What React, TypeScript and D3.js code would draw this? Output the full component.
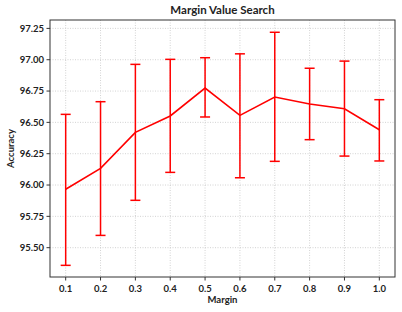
import React from 'react';
import * as d3 from 'd3';

const margins = [0.1, 0.2, 0.3, 0.4, 0.5, 0.6, 0.7, 0.8, 0.9, 1.0];
const accuracy = [95.966, 96.133, 96.42, 96.551, 96.774, 96.556, 96.702, 96.646, 96.609, 96.441];
const errLow = [95.359, 95.598, 95.878, 96.101, 96.543, 96.058, 96.189, 96.362, 96.231, 96.192];
const errHigh = [96.564, 96.665, 96.963, 97.003, 97.016, 97.047, 97.219, 96.932, 96.989, 96.681];
const yTicks = [95.5, 95.75, 96.0, 96.25, 96.5, 96.75, 97.0, 97.25];

const W = 402;
const H = 312;
const left = 50;
const right = 395;
const top = 20;
const bottom = 277;
const FONT = 'Lato, "DejaVu Sans", sans-serif';

const App = () => {
  const x = d3.scaleLinear().domain([0.055, 1.045]).range([left, right]);
  const y = d3.scaleLinear().domain([95.266, 97.317]).range([bottom, top]);

  const line = d3
    .line<number>()
    .x((d, i) => x(margins[i]))
    .y(d => y(d));

  const cap = 5;

  return (
    <svg width={W} height={H} style={{ position: 'absolute', left: 0, top: 0 }}>
      <rect width={W} height={H} fill="#fff" />
      {/* grid */}
      {margins.map(m => (
        <line key={'gx' + m} x1={x(m)} x2={x(m)} y1={top} y2={bottom}
          stroke="#c8c8c8" strokeWidth={0.8} strokeDasharray="1,1.5" />
      ))}
      {yTicks.map(t => (
        <line key={'gy' + t} x1={left} x2={right} y1={y(t)} y2={y(t)}
          stroke="#c8c8c8" strokeWidth={0.8} strokeDasharray="1,1.5" />
      ))}
      {/* error bars */}
      {margins.map((m, i) => (
        <g key={'e' + m} stroke="#ff0000" strokeWidth={1.5}>
          <line x1={x(m)} x2={x(m)} y1={y(errLow[i])} y2={y(errHigh[i])} />
          <line x1={x(m) - cap} x2={x(m) + cap} y1={y(errLow[i])} y2={y(errLow[i])} />
          <line x1={x(m) - cap} x2={x(m) + cap} y1={y(errHigh[i])} y2={y(errHigh[i])} />
        </g>
      ))}
      <path d={line(accuracy) || ''} fill="none" stroke="#ff0000" strokeWidth={1.6} />
      {/* frame */}
      <rect x={left} y={top} width={right - left} height={bottom - top}
        fill="none" stroke="#333" strokeWidth={1} />
      {/* ticks */}
      {margins.map(m => (
        <g key={'tx' + m}>
          <line x1={x(m)} x2={x(m)} y1={bottom} y2={bottom + 3.5} stroke="#333" />
          <text x={x(m)} y={bottom + 15} textAnchor="middle" fontFamily={FONT}
            fontWeight="bold" fontSize={9.5} fill="#222">{d3.format('.1f')(m)}</text>
        </g>
      ))}
      {yTicks.map(t => (
        <g key={'ty' + t}>
          <line x1={left - 3.5} x2={left} y1={y(t)} y2={y(t)} stroke="#333" />
          <text x={left - 6} y={y(t)} dy="0.35em" textAnchor="end" fontFamily={FONT}
            fontWeight="bold" fontSize={9.5} fill="#222">{d3.format('.2f')(t)}</text>
        </g>
      ))}
      <text x={(left + right) / 2} y={14} textAnchor="middle" fontFamily={FONT}
        fontWeight="bold" fontSize={11.5} fill="#222">Margin Value Search</text>
      <text x={(left + right) / 2} y={303} textAnchor="middle" fontFamily={FONT}
        fontWeight="bold" fontSize={9.5} fill="#222">Margin</text>
      <text transform={`translate(14, ${(top + bottom) / 2}) rotate(-90)`} textAnchor="middle"
        fontFamily={FONT} fontWeight="bold" fontSize={9.5} fill="#222">Accuracy</text>
    </svg>
  );
};

export default App;
